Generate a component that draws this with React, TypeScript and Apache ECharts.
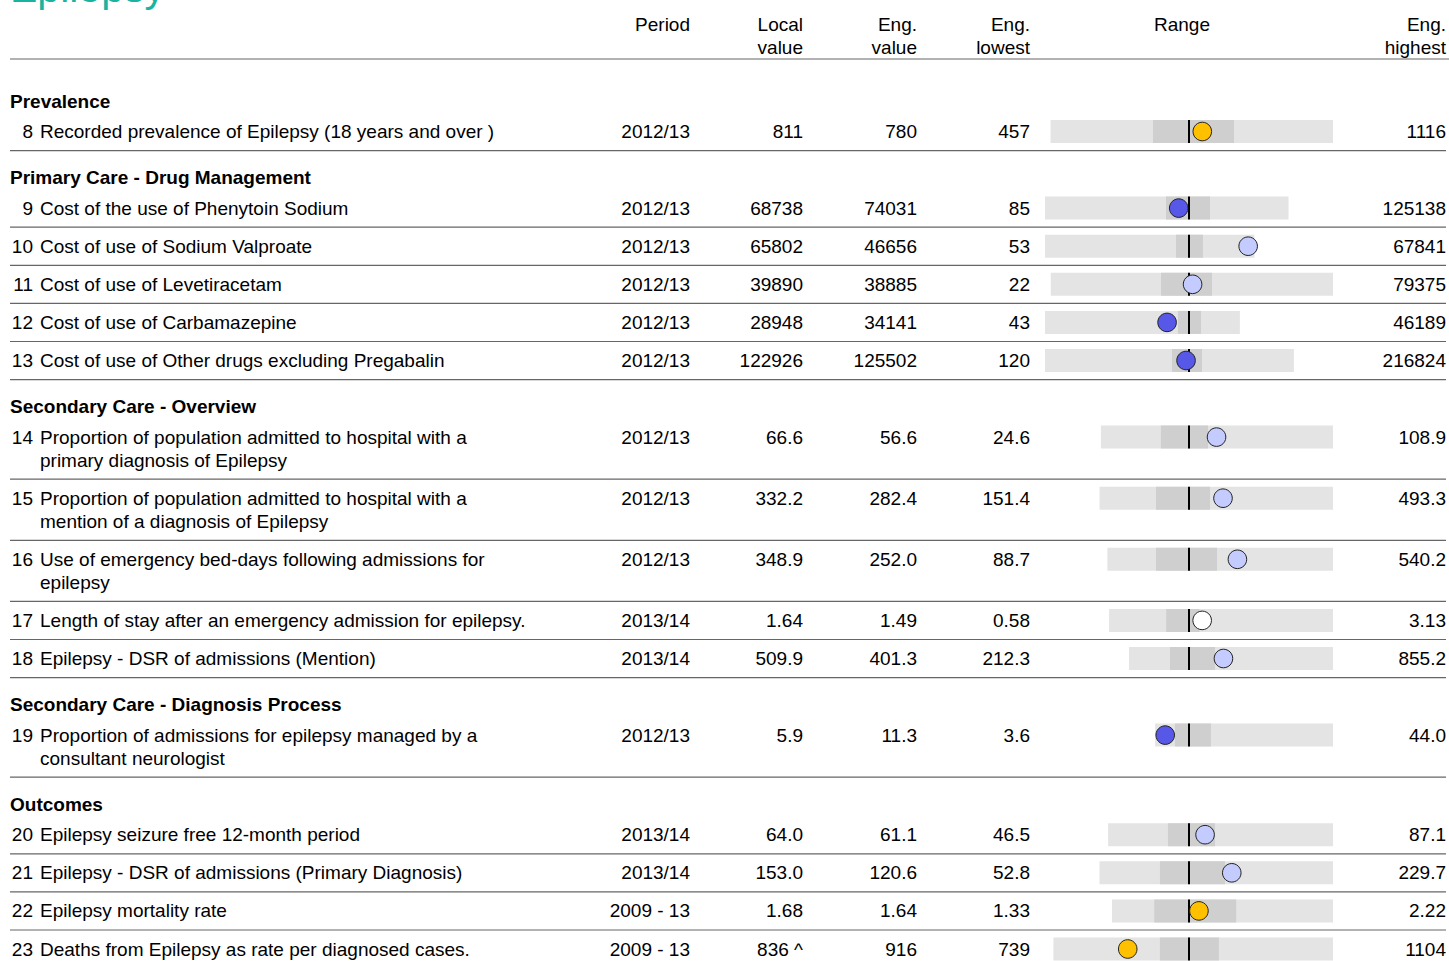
import React, { useEffect, useRef } from "react";
import * as echarts from "echarts";

// ---------- data ----------
const sectionTitles = [
  "Prevalence",
  "Primary Care - Drug Management",
  "Secondary Care - Overview",
  "Secondary Care - Diagnosis Process",
  "Outcomes",
];

const rowSection = [0, 1, 1, 1, 1, 1, 2, 2, 2, 2, 2, 3, 4, 4, 4, 4];

const ids = [8, 9, 10, 11, 12, 13, 14, 15, 16, 17, 18, 19, 20, 21, 22, 23];

const labels = [
  "Recorded prevalence of Epilepsy (18 years and over )",
  "Cost of the use of Phenytoin Sodium",
  "Cost of use of Sodium Valproate",
  "Cost of use of Levetiracetam",
  "Cost of use of Carbamazepine",
  "Cost of use of Other drugs excluding Pregabalin",
  "Proportion of population admitted to hospital with a\nprimary diagnosis of Epilepsy",
  "Proportion of population admitted to hospital with a\nmention of a diagnosis of Epilepsy",
  "Use of emergency bed-days following admissions for\nepilepsy",
  "Length of stay after an emergency admission for epilepsy.",
  "Epilepsy - DSR of admissions (Mention)",
  "Proportion of admissions for epilepsy managed by a\nconsultant neurologist",
  "Epilepsy seizure free 12-month period",
  "Epilepsy - DSR of admissions (Primary Diagnosis)",
  "Epilepsy mortality rate",
  "Deaths from Epilepsy as rate per diagnosed cases.",
];

const periods = [
  "2012/13", "2012/13", "2012/13", "2012/13", "2012/13", "2012/13",
  "2012/13", "2012/13", "2012/13", "2013/14", "2013/14", "2012/13",
  "2013/14", "2013/14", "2009 - 13", "2009 - 13",
];

const localValues = [811, 68738, 65802, 39890, 28948, 122926, 66.6, 332.2, 348.9, 1.64, 509.9, 5.9, 64.0, 153.0, 1.68, 836];
const localNotes = ["", "", "", "", "", "", "", "", "", "", "", "", "", "", "", " ^"];
const engValues = [780, 74031, 46656, 38885, 34141, 125502, 56.6, 282.4, 252.0, 1.49, 401.3, 11.3, 61.1, 120.6, 1.64, 916];
const engLowest = [457, 85, 53, 22, 43, 120, 24.6, 151.4, 88.7, 0.58, 212.3, 3.6, 46.5, 52.8, 1.33, 739];
const engHighest = [1116, 125138, 67841, 79375, 46189, 216824, 108.9, 493.3, 540.2, 3.13, 855.2, 44.0, 87.1, 229.7, 2.22, 1104];
const engQ25 = [696, 62220, 42449, 31012, 31536, 110700, 46.4, 234.1, 186, 1.23, 341.4, 8.1, 57.3, 98.6, 1.5, 878];
const engQ75 = [885, 84815, 51187, 45352, 36983, 136821, 63.5, 313.2, 308, 1.61, 483.3, 16.3, 65.8, 147.9, 1.83, 955];
const decimals = [0, 0, 0, 0, 0, 0, 1, 1, 1, 2, 1, 1, 1, 1, 2, 0];
// significance of local value against England
const significance = [
  "none", "lower", "higher", "higher", "lower", "lower",
  "higher", "higher", "higher", "similar", "higher", "lower",
  "higher", "higher", "none", "none",
];

const headerCols = [
  { text: "Period", x: 690, align: "right" },
  { text: "Local\nvalue", x: 803, align: "right" },
  { text: "Eng.\nvalue", x: 917, align: "right" },
  { text: "Eng.\nlowest", x: 1030, align: "right" },
  { text: "Range", x: 1182, align: "center" },
  { text: "Eng.\nhighest", x: 1446, align: "right" },
];

// ---------- styles ----------
const FONT = "'Liberation Sans', Arial, Helvetica, sans-serif";
const SIG_COLORS: Record<string, string> = {
  none: "#FFC000",
  lower: "#5858E8",
  higher: "#C3CBFF",
  similar: "#FFFFFF",
};

export default function App() {
  const ref = useRef<HTMLDivElement>(null);

  useEffect(() => {
    const chart = echarts.init(ref.current!, null, { renderer: "svg" });

    const graphics: any[] = [];
    const grids: any[] = [];
    const xAxes: any[] = [];
    const yAxes: any[] = [];
    const series: any[] = [];
    const TXT_DY = 0;

    const txt = (text: string, x: number, y: number, opts: any = {}) => ({
      type: "text",
      x,
      y: y + TXT_DY,
      silent: true,
      style: {
        text,
        fontFamily: FONT,
        fontSize: 19,
        fill: "#000",
        align: "left",
        verticalAlign: "top",
        lineHeight: 23,
        ...opts,
      },
    });
    const hline = (y: number, color: string, w: number, x1 = 10, x2 = 1446) => ({
      type: "line",
      silent: true,
      shape: { x1, y1: y, x2, y2: y },
      style: { stroke: color, lineWidth: w },
    });

    // title
    graphics.push({
      type: "text",
      x: 10,
      y: -12,
      silent: true,
      style: {
        text: "Epilepsy",
        fontFamily: FONT,
        fontSize: 41,
        fill: "#1AB3A0",
        align: "left",
        verticalAlign: "middle",
      },
    });

    // header
    headerCols.forEach((c) => {
      graphics.push(txt(c.text, c.x, 12.5, { align: c.align }));
    });
    graphics.push(hline(59, "#999", 1.5, 10, 1449));

    // rows
    let sep = 59;
    let prevSection = -1;
    ids.forEach((id, i) => {
      let center: number;
      if (rowSection[i] !== prevSection) {
        const secCenter = i === 0 ? sep + 42 : sep + 27;
        graphics.push(
          txt(sectionTitles[rowSection[i]], 10, secCenter - 11.5, { fontWeight: "bold" })
        );
        center = secCenter + 30.5;
        prevSection = rowSection[i];
      } else {
        center = sep + 19;
      }
      const lines = labels[i].split("\n").length;
      const top = center - 11.5;
      graphics.push(txt(String(id), 33, top, { align: "right" }));
      graphics.push(txt(labels[i], 40, top));
      graphics.push(txt(periods[i], 690, top, { align: "right" }));
      graphics.push(
        txt(localValues[i].toFixed(decimals[i]) + localNotes[i], 803, top, { align: "right" })
      );
      graphics.push(txt(engValues[i].toFixed(decimals[i]), 917, top, { align: "right" }));
      graphics.push(txt(engLowest[i].toFixed(decimals[i]), 1030, top, { align: "right" }));
      graphics.push(txt(engHighest[i].toFixed(decimals[i]), 1446, top, { align: "right" }));

      sep = center + 19.1 + 23 * (lines - 1);
      graphics.push(hline(sep, "#666", 1.2));

      // spine chart grid for the row
      const d = Math.max(engValues[i] - engLowest[i], engHighest[i] - engValues[i]);
      grids.push({ left: 1045, width: 288, top: center - 11.5, height: 23 });
      xAxes.push({
        type: "value",
        gridIndex: i,
        min: engValues[i] - d,
        max: engValues[i] + d,
        show: false,
      });
      yAxes.push({ type: "category", gridIndex: i, data: ["r"], show: false });
      const color = SIG_COLORS[significance[i]];
      series.push({
        type: "custom",
        xAxisIndex: i,
        yAxisIndex: i,
        silent: true,
        data: [[engLowest[i], engQ25[i], engValues[i], engQ75[i], engHighest[i], localValues[i]]],
        renderItem: (params: any, api: any) => {
          const cx = (v: number) => api.coord([v, 0])[0];
          const yc = api.coord([api.value(2), 0])[1];
          const h = api.size([0, 1])[1];
          const xl = cx(api.value(0));
          const x1 = cx(api.value(1));
          const xe = cx(api.value(2));
          const x3 = cx(api.value(3));
          const xh = cx(api.value(4));
          const xv = cx(api.value(5));
          return {
            type: "group",
            children: [
              {
                type: "rect",
                shape: { x: xl, y: yc - h / 2, width: xh - xl, height: h },
                style: { fill: "#E4E4E4" },
              },
              {
                type: "rect",
                shape: { x: x1, y: yc - h / 2, width: x3 - x1, height: h },
                style: { fill: "#CFCFCF" },
              },
              {
                type: "line",
                shape: { x1: xe, y1: yc - h / 2, x2: xe, y2: yc + h / 2 },
                style: { stroke: "#000", lineWidth: 2 },
              },
              {
                type: "circle",
                shape: { cx: xv, cy: yc, r: 9.3 },
                style: { fill: color, stroke: "#222", lineWidth: 1 },
              },
            ],
          };
        },
      });
    });

    chart.setOption({
      animation: false,
      backgroundColor: "#fff",
      grid: grids,
      xAxis: xAxes,
      yAxis: yAxes,
      series,
      graphic: { elements: graphics },
    });

    return () => chart.dispose();
  }, []);

  return (
    <div
      ref={ref}
      style={{ position: "fixed", left: 0, top: 0, width: 1449, height: 961, background: "#fff" }}
    />
  );
}
